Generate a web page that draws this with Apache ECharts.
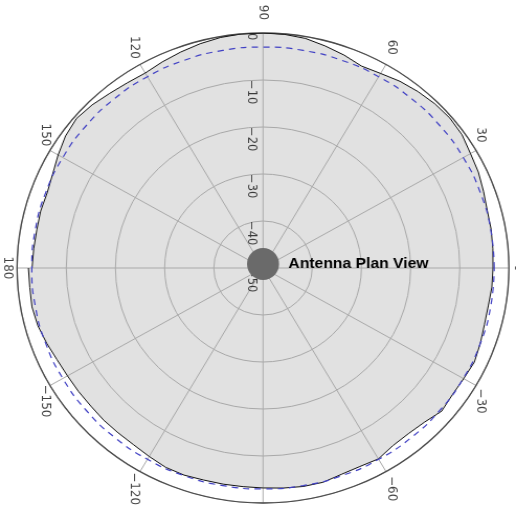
<!DOCTYPE html>
<html>
<head>
<meta charset="utf-8">
<script src="https://cdn.jsdelivr.net/npm/echarts@6/dist/echarts.min.js"></script>
<style>
  html, body { margin: 0; padding: 0; background: #ffffff; overflow: hidden; }
  /* the plot is drawn slightly wider than tall */
  #chart { width: 493px; height: 510px; transform: scaleX(1.0466); transform-origin: 0 0; }
</style>
</head>
<body>
<div id="chart"></div>
<script>
// Angle ticks (degrees, counter-clockwise from the right) and their labels
const angleTicks = [0, 30, 60, 90, 120, 150, 180, -150, -120, -90, -60, -30];
const angleTickLabels = ['0', '30', '60', '90', '120', '150', '180', '\u2212150', '\u2212120', '\u221290', '\u221260', '\u221230'];

// Radial ticks (dB) and their labels
const radiusTicks = [0, -10, -20, -30, -40, -50];
const radiusTickLabels = ['0', '\u221210', '\u221220', '\u221230', '\u221240', '\u221250'];

// Measured horizontal pattern (dB) by azimuth (degrees)
const patternAngles = [
  -180, -175, -170, -165, -160, -155, -150, -145, -140, -135, -130, -125,
  -120, -115, -110, -105, -100, -95, -90, -85, -80, -75, -70, -65,
  -60, -55, -50, -45, -40, -35, -30, -25, -20, -15, -10, -5,
  0, 5, 10, 15, 20, 25, 30, 35, 40, 45, 50, 55,
  60, 65, 70, 75, 80, 85, 90, 95, 100, 105, 110, 115,
  120, 125, 130, 135, 140, 145, 150, 155, 160, 165, 170, 175, 180
];
const patternGain = [
  -2.3, -2.4, -2.3, -2.6, -3.2, -3.8, -4.1, -4.2, -4.3, -4.2, -4.2, -4.1,
  -3.7, -3.2, -3.1, -3.3, -3.3, -3.3, -3.2, -3.0, -2.8, -2.8, -3.3, -3.4,
  -3.1, -3.9, -4.0, -3.6, -2.6, -3.0, -2.9, -2.6, -3.0, -3.4, -3.5, -3.3,
  -3.25, -3.1, -2.9, -2.8, -2.3, -1.7, -1.3, -0.6, -0.4, -0.6, -1.0, -1.5,
  -2.2, -2.6, -1.8, -1.1, -0.4, -0.1, 0, 0, -0.2, -0.6, -1.1, -1.6,
  -2.1, -1.9, -1.5, -0.9, -0.5, -1.0, -1.9, -2.8, -3.3, -3.2, -3.3, -3.2, -3.05
];

// Half-power (-3 dB) reference ring
const refAngles = [
  0, 10, 20, 30, 40, 50, 60, 70, 80, 90, 100, 110,
  120, 130, 140, 150, 160, 170, 180, 190, 200, 210, 220, 230,
  240, 250, 260, 270, 280, 290, 300, 310, 320, 330, 340, 350, 360
];
const refGain = [
  -3, -3, -3, -3, -3, -3, -3, -3, -3, -3, -3, -3,
  -3, -3, -3, -3, -3, -3, -3, -3, -3, -3, -3, -3,
  -3, -3, -3, -3, -3, -3, -3, -3, -3, -3, -3, -3, -3
];

const FONT = '"Liberation Sans", Arial, Helvetica, sans-serif';
const TICK_FONT = '"DejaVu Sans", sans-serif';
const R_MIN = -50, R_MAX = 0;
const POLAR_R = 235;
const DEG = Math.PI / 180;

const toAxis = a => ((a % 360) + 360) % 360;

// angle labels sit just outside the rim; the rotated text runs radially near
// the top and bottom, so those labels are pushed further out
function angleLabelPos(a) {
  const s = Math.sin(a * DEG), c = Math.cos(a * DEG);
  const px = POLAR_R + 9 + 11.5 * s * s;
  const nudge = 4 * Math.sin(2 * a * DEG) * c * c;
  return [R_MIN + (R_MAX - R_MIN) * px / POLAR_R, toAxis(a + nudge)];
}

const chart = echarts.init(document.getElementById('chart'));

chart.setOption({
  animation: false,
  backgroundColor: '#ffffff',
  polar: { center: [251.3, 268], radius: POLAR_R },
  angleAxis: {
    type: 'value', min: 0, max: 360, interval: 30,
    startAngle: 0, clockwise: false, z: 4,
    axisLine: { show: true, lineStyle: { color: '#4a4a4a', width: 1.3 } },
    axisTick: { show: false },
    axisLabel: { show: false },
    splitLine: { show: true, lineStyle: { color: '#a9a9a9', width: 1 } }
  },
  radiusAxis: {
    type: 'value', min: R_MIN, max: R_MAX, interval: 10, z: 3,
    axisLine: { show: false },
    axisTick: { show: false },
    axisLabel: { show: false },
    splitLine: { show: true, lineStyle: { color: '#a9a9a9', width: 1 } }
  },
  series: [
    {
      // shaded pattern area, filled down to the centre
      type: 'line', coordinateSystem: 'polar', z: 2, silent: true,
      showSymbol: false, lineStyle: { width: 0, opacity: 0 },
      areaStyle: { color: '#e1e1e1', opacity: 1, origin: 'start' },
      data: patternAngles.map((a, i) => [patternGain[i], toAxis(a)])
    },
    {
      // pattern outline
      type: 'line', coordinateSystem: 'polar', z: 6, silent: true,
      showSymbol: false, lineStyle: { color: '#111111', width: 1 },
      data: patternAngles.map((a, i) => [patternGain[i], toAxis(a)])
    },
    {
      type: 'line', coordinateSystem: 'polar', z: 6, silent: true,
      showSymbol: false, smooth: true,
      lineStyle: { color: '#4040c4', width: 1.2, type: [6, 5] },
      data: refAngles.map((a, i) => [refGain[i], toAxis(a)])
    },
    {
      // angle tick labels
      type: 'scatter', coordinateSystem: 'polar', clip: false, silent: true, z: 7,
      symbolSize: 1, itemStyle: { color: 'rgba(0,0,0,0)' },
      emphasis: { disabled: true },
      data: angleTicks.map(a => angleLabelPos(a)),
      label: {
        show: true, position: 'inside', rotate: -90,
        align: 'center', verticalAlign: 'middle',
        formatter: p => angleTickLabels[p.dataIndex],
        fontFamily: TICK_FONT, fontSize: 12, color: '#111111'
      }
    },
    {
      // radial tick labels along the 90 degree spoke
      type: 'scatter', coordinateSystem: 'polar', clip: false, silent: true, z: 7,
      symbolSize: 1, itemStyle: { color: 'rgba(0,0,0,0)' },
      emphasis: { disabled: true },
      data: radiusTicks.map(r => [r, 90]),
      label: {
        show: true, position: 'inside', rotate: -90,
        align: 'left', verticalAlign: 'top', padding: [5, 0, 0, 0],
        formatter: p => radiusTickLabels[p.dataIndex],
        fontFamily: TICK_FONT, fontSize: 11.5, color: '#111111'
      }
    },
    {
      // antenna marker at the origin
      type: 'scatter', coordinateSystem: 'polar', clip: false, silent: true, z: 10,
      symbol: 'circle', symbolSize: [30.6, 32], symbolOffset: [0, -4],
      itemStyle: { color: '#6a6a6a', opacity: 1 },
      emphasis: { disabled: true },
      data: [[R_MIN, 0]],
      label: {
        show: true, position: 'right', distance: 9,
        formatter: 'Antenna Plan View',
        fontFamily: FONT, fontSize: 15, fontWeight: 'bold', color: '#000000'
      }
    }
  ]
});
</script>
</body>
</html>
